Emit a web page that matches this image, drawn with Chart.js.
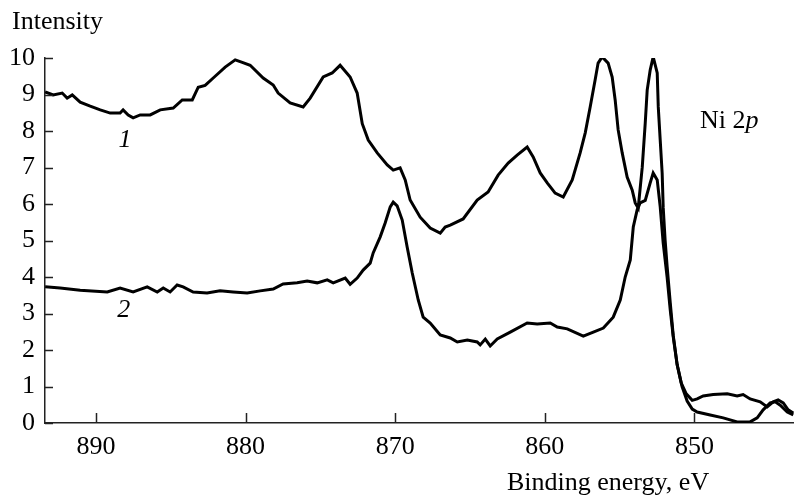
<!DOCTYPE html>
<html>
<head>
<meta charset="utf-8">
<script src="https://cdn.jsdelivr.net/npm/chart.js@4.4.1/dist/chart.umd.min.js"></script>
<style>
  html, body { margin: 0; padding: 0; background: #fff; }
  canvas { display: block; }
</style>
</head>
<body>
<canvas id="c" width="794" height="495"></canvas>
<script>
// Ni 2p photoelectron spectra, curves 1 and 2
const energy1 = [893.39, 892.85, 892.25, 891.92, 891.58, 891.05, 890.38, 889.71, 889.04, 888.38, 888.18, 887.84, 887.51, 887.04, 886.37, 885.70, 884.83, 884.23, 883.56, 883.16, 882.70, 882.03, 881.36, 880.69, 880.22, 879.69, 878.82, 878.15, 877.82, 877.02, 876.15, 875.68, 874.81, 874.21, 873.68, 873.01, 872.54, 872.20, 871.80, 871.20, 870.53, 870.13, 869.67, 869.33, 869.00, 868.33, 867.66, 866.99, 866.66, 866.32, 865.46, 864.52, 863.79, 863.12, 862.45, 861.85, 861.18, 860.78, 860.31, 859.84, 859.31, 858.77, 858.17, 857.64, 857.30, 856.97, 856.64, 856.44, 856.17, 855.77, 855.50, 855.30, 855.10, 854.83, 854.50, 854.16, 853.96, 853.76, 853.49, 853.29, 853.16, 852.96, 852.76, 852.49, 852.42, 852.29, 852.16, 852.09, 851.96, 851.83, 851.62, 851.42, 851.16, 850.89, 850.55, 850.15, 849.82, 849.42, 848.75, 847.81, 847.15, 846.75, 846.28, 845.61, 845.14, 844.74, 844.41, 844.07, 843.74, 843.40];
const intensity1 = [9.07, 8.99, 9.04, 8.90, 8.99, 8.79, 8.68, 8.58, 8.49, 8.49, 8.58, 8.44, 8.36, 8.44, 8.44, 8.58, 8.63, 8.85, 8.85, 9.20, 9.25, 9.50, 9.75, 9.95, 9.88, 9.80, 9.45, 9.26, 9.04, 8.77, 8.66, 8.90, 9.48, 9.59, 9.80, 9.48, 9.04, 8.20, 7.75, 7.40, 7.07, 6.93, 6.99, 6.66, 6.11, 5.64, 5.34, 5.20, 5.37, 5.42, 5.59, 6.11, 6.33, 6.79, 7.12, 7.34, 7.56, 7.29, 6.85, 6.58, 6.30, 6.19, 6.66, 7.40, 7.95, 8.66, 9.40, 9.86, 10.03, 9.86, 9.48, 8.85, 8.03, 7.40, 6.74, 6.38, 6.03, 5.89, 7.01, 8.22, 9.12, 9.67, 10.03, 9.59, 8.66, 7.75, 6.85, 5.90, 5.00, 4.30, 3.30, 2.40, 1.60, 1.10, 0.80, 0.62, 0.66, 0.74, 0.78, 0.80, 0.74, 0.78, 0.66, 0.58, 0.44, 0.58, 0.63, 0.55, 0.36, 0.27];

const energy2 = [893.39, 892.39, 891.05, 889.24, 888.38, 887.51, 886.57, 885.90, 885.50, 885.04, 884.57, 884.17, 883.50, 882.57, 881.70, 880.83, 879.89, 879.02, 878.15, 877.49, 876.55, 875.88, 875.21, 874.54, 874.14, 873.34, 873.01, 872.54, 872.14, 871.67, 871.47, 871.00, 870.67, 870.33, 870.13, 869.87, 869.53, 869.20, 868.86, 868.46, 868.13, 867.66, 866.99, 866.32, 865.85, 865.18, 864.52, 864.32, 863.98, 863.65, 863.18, 862.31, 861.18, 860.51, 859.64, 859.17, 858.50, 857.43, 856.76, 856.09, 855.43, 854.96, 854.63, 854.29, 854.09, 853.83, 853.63, 853.29, 852.96, 852.76, 852.49, 852.29, 852.09, 851.83, 851.62, 851.42, 851.16, 850.83, 850.49, 850.15, 849.82, 848.95, 848.08, 847.15, 846.28, 845.81, 845.41, 844.94, 844.61, 844.27, 843.80, 843.40];
const intensity2 = [3.73, 3.70, 3.64, 3.59, 3.70, 3.59, 3.73, 3.59, 3.70, 3.59, 3.78, 3.73, 3.59, 3.56, 3.62, 3.59, 3.56, 3.62, 3.67, 3.81, 3.84, 3.89, 3.84, 3.92, 3.84, 3.97, 3.80, 3.97, 4.19, 4.38, 4.66, 5.10, 5.48, 5.92, 6.05, 5.95, 5.56, 4.82, 4.11, 3.37, 2.90, 2.74, 2.41, 2.33, 2.22, 2.27, 2.22, 2.14, 2.30, 2.11, 2.30, 2.49, 2.74, 2.71, 2.74, 2.63, 2.58, 2.38, 2.49, 2.60, 2.90, 3.37, 4.00, 4.47, 5.37, 5.84, 6.03, 6.10, 6.58, 6.85, 6.66, 5.92, 4.93, 4.00, 3.10, 2.36, 1.60, 1.00, 0.60, 0.38, 0.30, 0.22, 0.14, 0.03, 0.03, 0.14, 0.36, 0.55, 0.58, 0.49, 0.30, 0.22];

const xTicks = [890, 880, 870, 860, 850];
const yTicks = [0, 1, 2, 3, 4, 5, 6, 7, 8, 9, 10];
const curveLabels = [
  { text: '1', energy: 888.06, value: 7.75 },
  { text: '2', energy: 888.13, value: 3.10 }
];

const SERIF = '"Liberation Serif", "Times New Roman", serif';
const FONT_SIZE = 26;

const pts = (xs, ys) => xs.map((x, i) => ({ x, y: ys[i] }));

// inward tick marks plus the free-standing texts
const decorations = {
  id: 'decorations',
  afterDraw(chart) {
    const ctx = chart.ctx;
    const xs = chart.scales.x, ys = chart.scales.y;
    const area = chart.chartArea;
    ctx.save();
    ctx.strokeStyle = '#222';
    ctx.lineWidth = 1.5;
    ctx.beginPath();
    yTicks.forEach(v => {
      const py = Math.round(ys.getPixelForValue(v)) + 0.5;
      ctx.moveTo(area.left, py);
      ctx.lineTo(area.left + 8, py);
    });
    xTicks.forEach(v => {
      const px = Math.round(xs.getPixelForValue(v)) + 0.5;
      ctx.moveTo(px, area.bottom);
      ctx.lineTo(px, area.bottom - 10);
    });
    ctx.stroke();

    ctx.fillStyle = '#000';
    ctx.textBaseline = 'alphabetic';
    ctx.textAlign = 'left';
    ctx.font = FONT_SIZE + 'px ' + SERIF;
    ctx.fillText('Intensity', 12, 29);
    ctx.fillText('Binding energy, eV', 507, 490);

    // "Ni 2p" with the italic p
    const nx = 700, ny = 128;
    ctx.fillText('Ni 2', nx, ny);
    const w = ctx.measureText('Ni 2').width;
    ctx.font = 'italic ' + FONT_SIZE + 'px ' + SERIF;
    ctx.fillText('p', nx + w, ny);

    ctx.textAlign = 'center';
    ctx.textBaseline = 'middle';
    curveLabels.forEach(l => {
      ctx.fillText(l.text, xs.getPixelForValue(l.energy), ys.getPixelForValue(l.value));
    });
    ctx.restore();
  }
};

function draw() {
  Chart.defaults.font.family = SERIF;
  Chart.defaults.font.size = FONT_SIZE;
  Chart.defaults.color = '#000';

  new Chart(document.getElementById('c'), {
    type: 'line',
    data: {
      datasets: [
        { label: '1', data: pts(energy1, intensity1), borderColor: '#000', borderWidth: 3, pointRadius: 0, tension: 0, fill: false },
        { label: '2', data: pts(energy2, intensity2), borderColor: '#000', borderWidth: 3, pointRadius: 0, tension: 0, fill: false }
      ]
    },
    options: {
      responsive: false,
      animation: false,
      events: [],
      layout: { padding: { top: 58, right: 0, left: 0, bottom: 0 } },
      plugins: { legend: { display: false }, tooltip: { enabled: false } },
      scales: {
        x: {
          type: 'linear',
          reverse: true,
          min: 843.35,
          max: 893.4,
          grid: { display: false },
          border: { display: true, color: '#222', width: 1.5 },
          afterBuildTicks: s => { s.ticks = xTicks.map(v => ({ value: v })); },
          afterFit: s => { s.height = 72; },
          ticks: { padding: 1, maxRotation: 0, autoSkip: false }
        },
        y: {
          min: 0,
          max: 10,
          grid: { display: false },
          border: { display: true, color: '#222', width: 1.5 },
          afterBuildTicks: s => { s.ticks = yTicks.map(v => ({ value: v })); },
          afterFit: s => { s.width = 45; },
          ticks: { padding: 2, autoSkip: false }
        }
      }
    },
    plugins: [decorations]
  });
}

// make sure the serif faces are ready before the canvas text is drawn
Promise.all([
  document.fonts.load(FONT_SIZE + 'px "Liberation Serif"'),
  document.fonts.load('italic ' + FONT_SIZE + 'px "Liberation Serif"')
]).then(draw, draw);
</script>
</body>
</html>
